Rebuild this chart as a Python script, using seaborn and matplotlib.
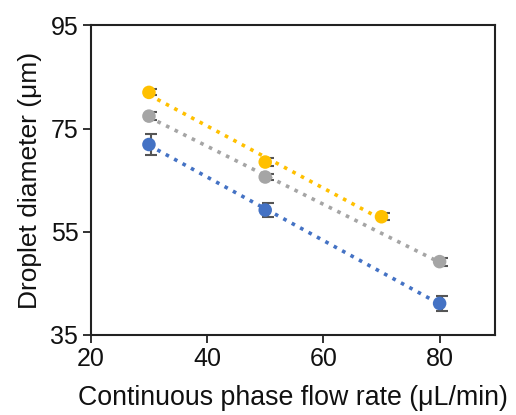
import numpy as np
import pandas as pd
import matplotlib
matplotlib.use("Agg")
import matplotlib.pyplot as plt
import seaborn as sns

# values
flow_yellow = [30, 50, 70]
diam_yellow = [82.0, 68.5, 57.9]
err_yellow = [0.6, 0.8, 0.7]

flow_gray = [30, 50, 80]
diam_gray = [77.4, 65.6, 49.2]
err_gray = [0.8, 0.6, 0.8]

flow_blue = [30, 50, 80]
diam_blue = [71.9, 59.2, 41.1]
err_blue = [2.1, 1.4, 1.5]

series = [
    ("yellow", flow_yellow, diam_yellow, err_yellow, "#FFC000"),
    ("gray", flow_gray, diam_gray, err_gray, "#A5A5A5"),
    ("blue", flow_blue, diam_blue, err_blue, "#4472C4"),
]

sns.set_style("ticks")
plt.rcParams.update({
    "font.family": ["Liberation Sans", "DejaVu Sans"],
    "axes.edgecolor": "#222222",
    "axes.linewidth": 1.5,
    "xtick.major.size": 6,
    "ytick.major.size": 6,
    "xtick.major.width": 1.3,
    "ytick.major.width": 1.3,
    "xtick.color": "#222222",
    "ytick.color": "#222222",
    "text.color": "#111111",
    "axes.labelcolor": "#111111",
})

fig = plt.figure(figsize=(5.16, 4.15), dpi=100)
ax = fig.add_axes([0.176, 0.193, 0.783, 0.746])

for name, x, y, e, col in series:
    df = pd.DataFrame({"flow": x, "diam": y})
    sns.regplot(data=df, x="flow", y="diam", ax=ax, ci=None, scatter=False,
                color=col, line_kws=dict(ls=":", lw=2.6, zorder=2))
    ax.errorbar(np.array(x) + 0.4, y, yerr=e, fmt="none", ecolor="#555555",
                elinewidth=1.5, capsize=4, capthick=1.5, zorder=3)
    ax.scatter(x, y, s=95, color=col, zorder=4, edgecolor="none")

ax.set_xlim(20, 89.5)
ax.set_ylim(35, 95)
ax.set_xticks([20, 40, 60, 80])
ax.set_yticks([35, 55, 75, 95])
ax.tick_params(labelsize=18, pad=3, labelcolor="#111111")
ax.set_xlabel("Continuous phase flow rate (\u03bcL/min)", fontsize=19.3, labelpad=10)
ax.set_ylabel("Droplet diameter (\u03bcm)", fontsize=19, labelpad=6)

fig.savefig("out.png", dpi=100)
